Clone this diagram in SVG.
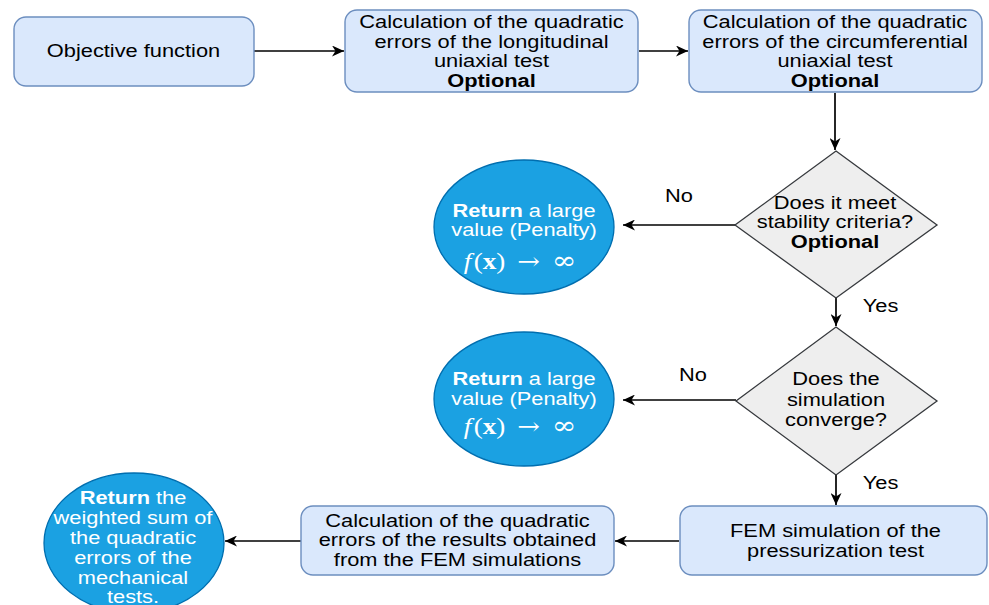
<svg xmlns="http://www.w3.org/2000/svg" width="989" height="605" viewBox="0 0 989 605">
<style>
.box{fill:#dae8fc;stroke:#6c8ebf;stroke-width:1.4}
.dia{fill:#eeeeee;stroke:#36393d;stroke-width:1.3}
.ell{fill:#1ba1e2;stroke:#006eaf;stroke-width:1.3}
.t{font-family:"Liberation Sans",Arial,sans-serif;font-size:18.5px;fill:#000;text-anchor:middle}
.w{fill:#fff}
.b{font-weight:bold}
.m{font-family:"Liberation Serif","DejaVu Serif",serif;font-size:23px;fill:#fff;text-anchor:middle}
.s{font-family:"DejaVu Serif",serif}
.c{fill:none;stroke:#000;stroke-width:1.7}
</style>
<defs>
<marker id="ah" markerWidth="13" markerHeight="11" refX="12" refY="5.5" orient="auto" markerUnits="userSpaceOnUse">
<path d="M0,0 L12,5.5 L0,11 L3.5,5.5 z" fill="#000"/>
</marker>
</defs>
<rect width="989" height="605" fill="#fff"/>
<g id="connectors">
<line class="c" x1="254" y1="51" x2="344" y2="51" marker-end="url(#ah)"/>
<line class="c" x1="639" y1="51" x2="688" y2="51" marker-end="url(#ah)"/>
<line class="c" x1="835" y1="93" x2="835" y2="150" marker-end="url(#ah)"/>
<line class="c" x1="836" y1="298" x2="836" y2="326" marker-end="url(#ah)"/>
<line class="c" x1="735" y1="225" x2="623" y2="225" marker-end="url(#ah)"/>
<line class="c" x1="736" y1="400" x2="623" y2="400" marker-end="url(#ah)"/>
<line class="c" x1="836" y1="475" x2="836" y2="505" marker-end="url(#ah)"/>
<line class="c" x1="679" y1="541" x2="615" y2="541" marker-end="url(#ah)"/>
<line class="c" x1="301" y1="541" x2="225" y2="541" marker-end="url(#ah)"/>
<text class="t" transform="translate(679,201.5) scale(1.18,1)">No</text>
<text class="t" transform="translate(693,380.5) scale(1.18,1)">No</text>
<text class="t" transform="translate(880.5,311.5) scale(1.18,1)">Yes</text>
<text class="t" transform="translate(880.5,489) scale(1.18,1)">Yes</text>
</g>
<g id="objective">
<rect class="box" x="14" y="17" width="240" height="69" rx="12"/>
<text class="t" transform="translate(133.5,57) scale(1.18,1)">Objective function</text>
</g>
<g id="longitudinal">
<rect class="box" x="345" y="10" width="293" height="82" rx="12"/>
<text class="t" transform="translate(491.5,28) scale(1.18,1)">Calculation of the quadratic</text>
<text class="t" transform="translate(491.5,47.5) scale(1.18,1)">errors of the longitudinal</text>
<text class="t" transform="translate(491.5,67) scale(1.18,1)">uniaxial test</text>
<text class="t b" transform="translate(491.5,86.5) scale(1.18,1)">Optional</text>
</g>
<g id="circumferential">
<rect class="box" x="689" y="10" width="293" height="82" rx="12"/>
<text class="t" transform="translate(835,28) scale(1.18,1)">Calculation of the quadratic</text>
<text class="t" transform="translate(835,47.5) scale(1.18,1)">errors of the circumferential</text>
<text class="t" transform="translate(835,67) scale(1.18,1)">uniaxial test</text>
<text class="t b" transform="translate(835,86.5) scale(1.18,1)">Optional</text>
</g>
<g id="stability">
<polygon class="dia" points="836,151 937,225 836,298 735,225"/>
<text class="t" transform="translate(835,209) scale(1.18,1)">Does it meet</text>
<text class="t" transform="translate(835,228) scale(1.18,1)">stability criteria?</text>
<text class="t b" transform="translate(835,248) scale(1.18,1)">Optional</text>
</g>
<g id="penalty1">
<ellipse class="ell" cx="524" cy="227" rx="90" ry="67"/>
<text class="t w" transform="translate(524,216.5) scale(1.18,1)"><tspan class="b">Return</tspan> a large</text>
<text class="t w" transform="translate(524,235.5) scale(1.18,1)">value (Penalty)</text>
<text class="m" transform="translate(520,269) scale(1.18,1)"><tspan font-style="italic">f</tspan><tspan dx="2">(</tspan><tspan font-weight="bold">x</tspan>)<tspan class="s" dx="10">→</tspan><tspan class="s" dx="10" font-size="25">∞</tspan></text>
</g>
<g id="converge">
<polygon class="dia" points="836,327 937,401 836,475 736,401"/>
<text class="t" transform="translate(836,385) scale(1.18,1)">Does the</text>
<text class="t" transform="translate(836,405.5) scale(1.18,1)">simulation</text>
<text class="t" transform="translate(836,425.5) scale(1.18,1)">converge?</text>
</g>
<g id="penalty2">
<ellipse class="ell" cx="524" cy="399" rx="90" ry="67"/>
<text class="t w" transform="translate(524,385) scale(1.18,1)"><tspan class="b">Return</tspan> a large</text>
<text class="t w" transform="translate(524,405) scale(1.18,1)">value (Penalty)</text>
<text class="m" transform="translate(520,434) scale(1.18,1)"><tspan font-style="italic">f</tspan><tspan dx="2">(</tspan><tspan font-weight="bold">x</tspan>)<tspan class="s" dx="10">→</tspan><tspan class="s" dx="10" font-size="25">∞</tspan></text>
</g>
<g id="fem">
<rect class="box" x="680" y="506" width="307" height="69" rx="12"/>
<text class="t" transform="translate(835.5,537) scale(1.18,1)">FEM simulation of the</text>
<text class="t" transform="translate(835.5,557) scale(1.18,1)">pressurization test</text>
</g>
<g id="calcfem">
<rect class="box" x="301" y="506" width="313" height="69" rx="12"/>
<text class="t" transform="translate(457.5,526.5) scale(1.18,1)">Calculation of the quadratic</text>
<text class="t" transform="translate(457.5,546) scale(1.18,1)">errors of the results obtained</text>
<text class="t" transform="translate(457.5,565.5) scale(1.18,1)">from the FEM simulations</text>
</g>
<g id="result">
<ellipse class="ell" cx="134" cy="543" rx="90" ry="70"/>
<text class="t w" transform="translate(133,503.5) scale(1.18,1)"><tspan class="b">Return</tspan> the</text>
<text class="t w" transform="translate(133,523.5) scale(1.18,1)">weighted sum of</text>
<text class="t w" transform="translate(133,543.5) scale(1.18,1)">the quadratic</text>
<text class="t w" transform="translate(133,563.5) scale(1.18,1)">errors of the</text>
<text class="t w" transform="translate(133,583.5) scale(1.18,1)">mechanical</text>
<text class="t w" transform="translate(133,602.5) scale(1.18,1)">tests.</text>
</g>
</svg>
